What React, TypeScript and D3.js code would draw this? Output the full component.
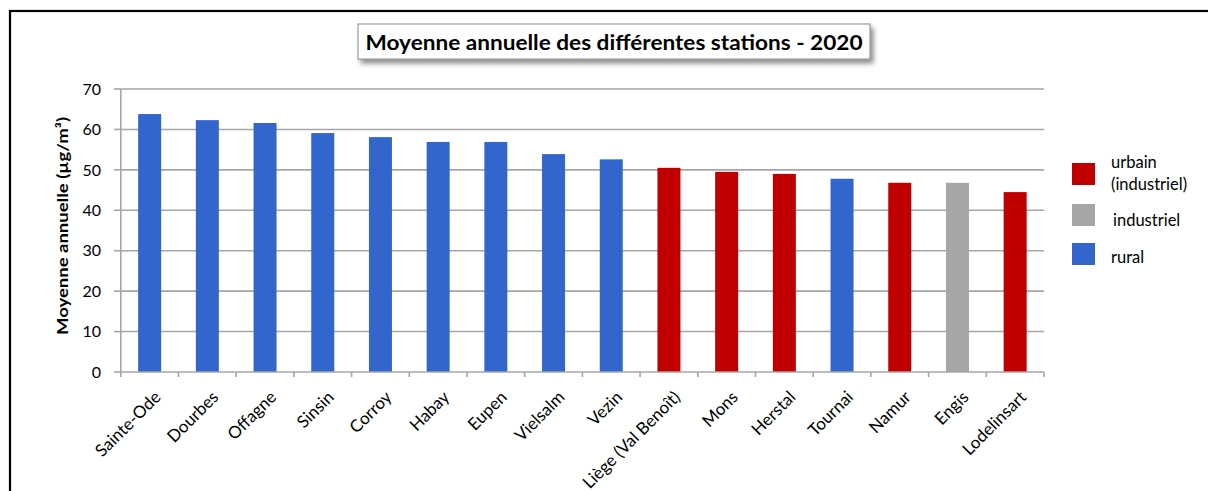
import React from "react";
import * as d3 from "d3";

const stations = [
  "Sainte-Ode", "Dourbes", "Offagne", "Sinsin", "Corroy", "Habay", "Eupen", "Vielsalm",
  "Vezin", "Liège (Val Benoît)", "Mons", "Herstal", "Tournai", "Namur", "Engis", "Lodelinsart",
];
const values = [63.8, 62.3, 61.6, 59.1, 58.1, 56.9, 56.9, 53.9, 52.6, 50.5, 49.5, 49.0, 47.8, 46.8, 46.8, 44.5];
const types = [
  "rural", "rural", "rural", "rural", "rural", "rural", "rural", "rural",
  "rural", "urbain", "urbain", "urbain", "rural", "urbain", "industriel", "urbain",
];
const yTicks = [0, 10, 20, 30, 40, 50, 60, 70];
const legendKeys = ["urbain", "industriel", "rural"];
const legendLabels = [["urbain", "(industriel)"], ["industriel"], ["rural"]];
const colors: Record<string, string> = { urbain: "#c00000", industriel: "#a6a6a6", rural: "#3366cc" };

const FONT = "Lato, 'Open Sans', sans-serif";

export default function App() {
  const x = d3.scaleBand<string>().domain(stations).range([120.8, 1044]).paddingInner(0).paddingOuter(0);
  const y = d3.scaleLinear().domain([0, 70]).range([372, 89]);
  const bw = 23;
  const grid = "#a6a6a6";
  const edges = stations.map((s) => x(s)!).concat([1044]);

  return (
    <svg width={1208} height={491} style={{ position: "absolute", left: 0, top: 0, background: "#fff" }} fontFamily={FONT}>
      <defs>
        <filter id="sh" x="-10%" y="-30%" width="130%" height="180%">
          <feDropShadow dx="3" dy="4" stdDeviation="2.5" floodColor="#000" floodOpacity="0.45" />
        </filter>
      </defs>
      <rect x={0} y={0} width={1208} height={491} fill="#fff" />
      <rect x={10} y={11} width={1220} height={500} fill="none" stroke="#000" strokeWidth={2.2} />

      {/* title */}
      <rect x={358} y={24} width={512} height={35} fill="#fff" stroke="#8a8a8a" strokeWidth={1} filter="url(#sh)" />
      <text x={614} y={50} textAnchor="middle" fontWeight="bold" fontSize={20} textLength={497} lengthAdjust="spacingAndGlyphs">
        Moyenne annuelle des différentes stations - 2020
      </text>

      {/* gridlines */}
      {yTicks.map((t) => (
        <g key={t}>
          {t > 0 && <line x1={120.8} x2={1044} y1={y(t)} y2={y(t)} stroke={grid} strokeWidth={1.6} />}
          <line x1={114} x2={120.8} y1={y(t)} y2={y(t)} stroke={grid} strokeWidth={1.6} />
          <text x={101} y={y(t)} dy="0.36em" textAnchor="end" fontSize={16} fill="#000">{t}</text>
        </g>
      ))}
      <line x1={120.8} x2={120.8} y1={y(70)} y2={y(0)} stroke={grid} strokeWidth={1.6} />

      {/* bars */}
      {stations.map((s, i) => (
        <rect key={s} x={x(s)! + x.bandwidth() / 2 - bw / 2} y={y(values[i])} width={bw} height={y(0) - y(values[i])} fill={colors[types[i]]} />
      ))}

      {/* x axis */}
      <line x1={120.8} x2={1044} y1={y(0)} y2={y(0)} stroke={grid} strokeWidth={1.6} />
      {edges.map((e, i) => (
        <line key={i} x1={e} x2={e} y1={y(0)} y2={y(0) + 5} stroke={grid} strokeWidth={1.6} />
      ))}
      {stations.map((s) => (
        <text key={s} transform={`translate(${x(s)! + x.bandwidth() / 2 + 8},${394}) rotate(-45)`} textAnchor="end" dy="0.35em" fontSize={17} fill="#000">
          {s}
        </text>
      ))}

      {/* y label */}
      <text transform="translate(68,226) rotate(-90)" textAnchor="middle" fontWeight="bold" fontSize={15} textLength={218} lengthAdjust="spacingAndGlyphs">
        Moyenne annuelle (µg/m³)
      </text>

      {/* legend */}
      {legendKeys.map((k, i) => {
        const sy = [163, 204, 243][i];
        return (
          <g key={k}>
            <rect x={1072} y={sy} width={23} height={22} fill={colors[k]} />
            {legendLabels[i].map((l, j) => (
              <text key={j} x={i === 1 ? 1113 : 1111} y={[[168, 190], [226], [263]][i][j]} fontSize={16.5} fill="#000">{l}</text>
            ))}
          </g>
        );
      })}
    </svg>
  );
}
